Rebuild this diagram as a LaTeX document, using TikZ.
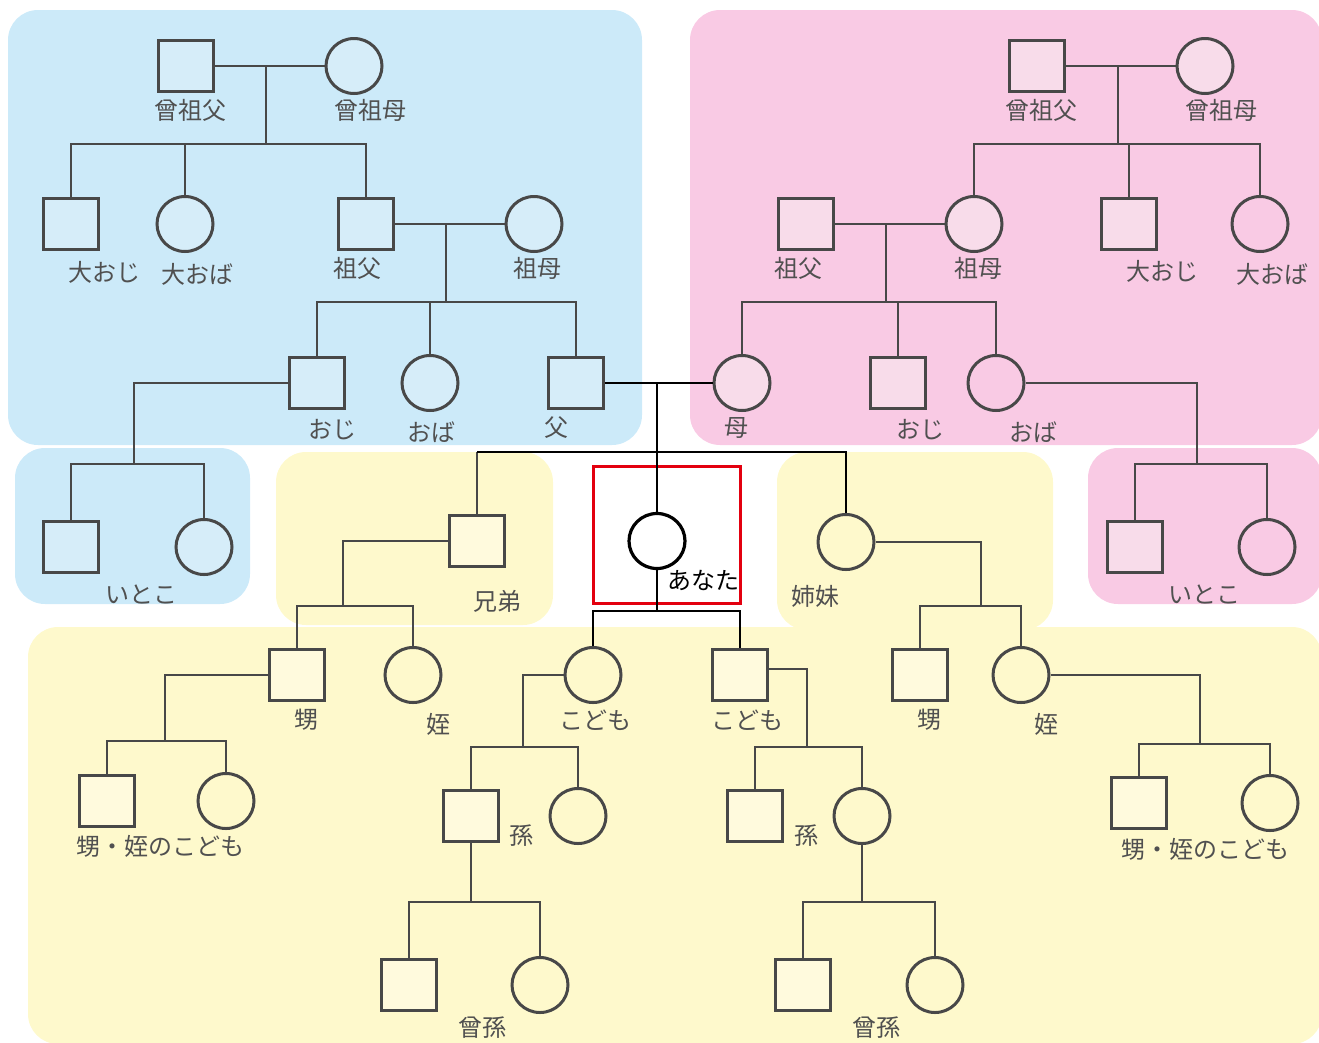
\documentclass[tikz,border=0pt]{standalone}
\usepackage{fontspec}
\newfontfamily\jp{Noto Sans CJK JP}
\usetikzlibrary{shapes.geometric}
\definecolor{bbg}{HTML}{CCEAF9}
\definecolor{pbg}{HTML}{F9CAE4}
\definecolor{ybg}{HTML}{FEF9CC}
\definecolor{bfill}{HTML}{D6EDF9}
\definecolor{pfill}{HTML}{F8DCEA}
\definecolor{yfill}{HTML}{FFFADD}
\definecolor{lgray}{HTML}{484848}
\definecolor{tgray}{HTML}{505050}
\definecolor{redbox}{HTML}{E3000F}
\begin{document}
\begin{tikzpicture}[x=1pt,y=-1pt,
  sq/.style={draw=lgray,line width=3pt,rectangle,minimum width=55pt,minimum height=51pt,inner sep=0pt},
  ci/.style={draw=lgray,line width=3pt,ellipse,minimum width=56pt,minimum height=55pt,inner sep=0pt},
  lab/.style={font=\jp\fontsize{24}{24}\selectfont,text=tgray,inner sep=0pt},
  gl/.style={draw=lgray,line width=2.8pt},
  bl/.style={draw=black,line width=2.8pt},
  area/.style={rounded corners=30pt}
]
\useasboundingbox (0,0) rectangle (1319,1042);
\clip (0,0) rectangle (1319,1042);
% background areas
\fill[bbg,area] (8,10) rectangle (642,445);
\fill[pbg,area] (690,10) rectangle (1322,445);
\fill[bbg,area] (15,448) rectangle (250,604);
\fill[ybg,area] (276,452) rectangle (553,625);
\fill[ybg,area] (777,452) rectangle (1053,630);
\fill[pbg,area] (1088,448) rectangle (1322,604);
\fill[ybg,area] (28,627) rectangle (1322,1044);
\node[draw=redbox,line width=3pt,minimum width=147pt,minimum height=137pt,inner sep=0pt] (youbox) at (666.5,534.5) {};

% paternal side
\node[sq,fill=bfill] (pggf) at (186,66) {};
\node[ci,fill=bfill] (pggm) at (354,66) {};
\node[sq,fill=bfill] (pgu) at (71,224) {};
\node[ci,fill=bfill] (pga) at (185,224) {};
\node[sq,fill=bfill] (pgf) at (366,224) {};
\node[ci,fill=bfill] (pgm) at (534,224) {};
\node[sq,fill=bfill] (pu) at (317,383) {};
\node[ci,fill=bfill] (pa) at (430,383) {};
\node[sq,fill=bfill] (fa) at (576,383) {};
\node[sq,fill=bfill] (pc1) at (71,547) {};
\node[ci,fill=bfill] (pc2) at (204,547) {};
\coordinate (pm1) at (266,66); \coordinate (pb1) at (266,144);
\draw[gl] (pggf) -- (pggm);
\draw[gl] (pm1) -- (pb1);
\draw[gl] (pgu.north) |- (pb1) -| (pgf.north);
\draw[gl] (pga.north) -- (pga.north |- pb1);
\coordinate (pm2) at (446,224); \coordinate (pb2) at (446,302);
\draw[gl] (pgf) -- (pgm);
\draw[gl] (pm2) -- (pb2);
\draw[gl] (pu.north) |- (pb2) -| (fa.north);
\draw[gl] (pa.north) -- (pa.north |- pb2);
\coordinate (pcb) at (134,464);
\draw[gl] (pu.west) -| (pcb);
\draw[gl] (pc1.north) |- (pcb) -| (pc2.north);

% maternal side
\node[sq,fill=pfill] (mggf) at (1037,66) {};
\node[ci,fill=pfill] (mggm) at (1205,66) {};
\node[sq,fill=pfill] (mgf) at (806,224) {};
\node[ci,fill=pfill] (mgm) at (974,224) {};
\node[sq,fill=pfill] (mgu) at (1129,224) {};
\node[ci] (mga) at (1260,224) {};
\node[ci,fill=pfill] (mo) at (742,383) {};
\node[sq,fill=pfill] (mu) at (898,383) {};
\node[ci] (ma) at (996,383) {};
\node[sq,fill=pfill] (mc1) at (1135,547) {};
\node[ci] (mc2) at (1267,547) {};
\coordinate (mm1) at (1118,66); \coordinate (mb1) at (1118,144);
\draw[gl] (mggf) -- (mggm);
\draw[gl] (mm1) -- (mb1);
\draw[gl] (mgm.north) |- (mb1) -| (mga.north);
\draw[gl] (mgu.north) -- (mgu.north |- mb1);
\coordinate (mm2) at (886,224); \coordinate (mb2) at (886,302);
\draw[gl] (mgf) -- (mgm);
\draw[gl] (mm2) -- (mb2);
\draw[gl] (mo.north) |- (mb2) -| (ma.north);
\draw[gl] (mu.north) -- (mu.north |- mb2);
\coordinate (mcb) at (1197,464);
\draw[gl] (ma.east) -| (mcb);
\draw[gl] (mc1.north) |- (mcb) -| (mc2.north);

% center
\node[ci,fill=white,draw=black,line width=3.2pt] (you) at (657,541) {};
\node[sq,fill=yfill] (bro) at (477,541) {};
\node[ci] (sis) at (846,542) {};
\coordinate (cm) at (657,383); \coordinate (sb) at (657,452);
\draw[bl] (fa) -- (mo);
\draw[bl] (cm) -- (you.north);
\draw[gl] (bro.north) -- (bro.north |- sb);
\draw[bl] (bro.north |- sb) -- (sb) -| (sis.north);

% your children
\node[ci] (ch1) at (593,675) {};
\node[sq,fill=yfill] (ch2) at (740,675) {};
\coordinate (yb) at (657,611);
\draw[bl] (you.south) -- (yb);
\draw[bl] (ch1.north) |- (yb) -| (ch2.north);

% brother's line
\node[sq,fill=yfill] (bn1) at (297,675) {};
\node[ci] (bn2) at (413,675) {};
\coordinate (bb) at (343,606);
\draw[gl] (bro.west) -| (bb);
\draw[gl] (bn1.north) |- (bb) -| (bn2.north);
\node[sq,fill=yfill] (bg1) at (107,801) {};
\node[ci] (bg2) at (226,801) {};
\coordinate (bgb) at (165,741);
\draw[gl] (bn1.west) -| (bgb);
\draw[gl] (bg1.north) |- (bgb) -| (bg2.north);

% sister's line
\node[sq,fill=yfill] (sn1) at (920,675) {};
\node[ci] (sn2) at (1021,675) {};
\coordinate (sb2) at (981,606);
\draw[gl] (sis.east) -| (sb2);
\draw[gl] (sn1.north) |- (sb2) -| (sn2.north);
\node[sq,fill=yfill] (sg1) at (1139,803) {};
\node[ci] (sg2) at (1270,803) {};
\coordinate (sgb) at (1200,744);
\draw[gl] (sn2.east) -| (sgb);
\draw[gl] (sg1.north) |- (sgb) -| (sg2.north);

% grandchildren
\node[sq,fill=yfill] (gc1) at (471,816) {};
\node[ci] (gc2) at (578,816) {};
\coordinate (gb1) at (523,747);
\draw[gl] (ch1.west) -| (gb1);
\draw[gl] (gc1.north) |- (gb1) -| (gc2.north);
\node[sq,fill=yfill] (gg1) at (409,985) {};
\node[ci] (gg2) at (540,985) {};
\coordinate (ggb1) at (471,902);
\draw[gl] (gc1.south) -- (ggb1);
\draw[gl] (gg1.north) |- (ggb1) -| (gg2.north);
\node[sq,fill=yfill] (gc3) at (755,816) {};
\node[ci] (gc4) at (862,816) {};
\coordinate (gb2) at (807,747);
\draw[gl] ([yshift=6pt]ch2.east) -| (gb2);
\draw[gl] (gc3.north) |- (gb2) -| (gc4.north);
\node[sq,fill=yfill] (gg3) at (803,985) {};
\node[ci] (gg4) at (935,985) {};
\coordinate (ggb2) at (862,902);
\draw[gl] (gc4.south) -- (ggb2);
\draw[gl] (gg3.north) |- (ggb2) -| (gg4.north);

% labels
\node[lab] (t1) at (190,110) {曾祖父};
\node[lab] (t2) at (370,110) {曾祖母};
\node[lab] (t3) at (104,272) {大おじ};
\node[lab] (t4) at (197,274) {大おば};
\node[lab] (t5) at (357,268) {祖父};
\node[lab] (t6) at (537,268) {祖母};
\node[lab] (t7) at (332,430) {おじ};
\node[lab] (t8) at (431,432) {おば};
\node[lab] (t9) at (556,428) {父};
\node[lab] (t10) at (141,594) {いとこ};
\node[lab] (t11) at (1041,110) {曾祖父};
\node[lab] (t12) at (1221,110) {曾祖母};
\node[lab] (t13) at (798,268) {祖父};
\node[lab] (t14) at (978,268) {祖母};
\node[lab] (t15) at (1162,271) {大おじ};
\node[lab] (t16) at (1272,274) {大おば};
\node[lab] (t17) at (736,428) {母};
\node[lab] (t18) at (920,430) {おじ};
\node[lab] (t19) at (1033,432) {おば};
\node[lab] (t20) at (1204,594) {いとこ};
\node[lab] (t21) at (497,601) {兄弟};
\node[lab,text=black] (t22) at (703,580) {あなた};
\node[lab] (t23) at (815,596) {姉妹};
\node[lab] (t24) at (595,720) {こども};
\node[lab] (t25) at (747,720) {こども};
\node[lab] (t26) at (306,720) {甥};
\node[lab] (t27) at (438,724) {姪};
\node[lab] (t28) at (929,720) {甥};
\node[lab] (t29) at (1046,724) {姪};
\node[lab] (t30) at (160,846) {甥・姪のこども};
\node[lab] (t31) at (1205,849) {甥・姪のこども};
\node[lab] (t32) at (521,836) {孫};
\node[lab] (t33) at (806,836) {孫};
\node[lab] (t34) at (482,1028) {曾孫};
\node[lab] (t35) at (876,1028) {曾孫};
\end{tikzpicture}
\end{document}
